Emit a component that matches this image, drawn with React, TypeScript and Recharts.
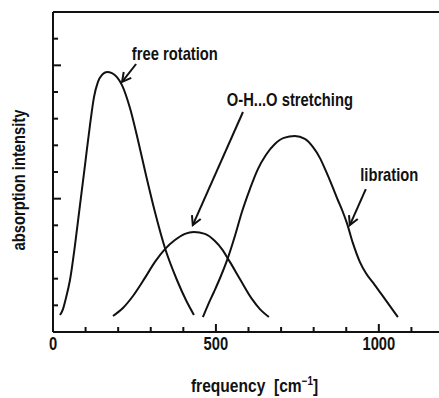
import React from 'react';
import {
  LineChart,
  Line,
  XAxis,
  YAxis,
  ReferenceLine,
  ReferenceDot,
} from 'recharts';

// frequency (cm^-1) / intensity pairs
const freeRotation = [
  { f: 21.5, v: 0.64 },
  { f: 30.7, v: 0.86 },
  { f: 39.9, v: 1.28 },
  { f: 52.1, v: 1.95 },
  { f: 67.5, v: 3.26 },
  { f: 82.8, v: 4.76 },
  { f: 98.2, v: 6.26 },
  { f: 113.5, v: 7.76 },
  { f: 125.8, v: 8.81 },
  { f: 138, v: 9.38 },
  { f: 150.3, v: 9.64 },
  { f: 165.6, v: 9.75 },
  { f: 181, v: 9.71 },
  { f: 196.3, v: 9.56 },
  { f: 211.7, v: 9.26 },
  { f: 236.2, v: 8.4 },
  { f: 260.7, v: 7.2 },
  { f: 285.3, v: 5.89 },
  { f: 312.9, v: 4.5 },
  { f: 343.6, v: 3.15 },
  { f: 380.4, v: 1.95 },
  { f: 408, v: 1.2 },
  { f: 432.5, v: 0.64 },
];

const ohoStretching = [
  { f: 184, v: 0.6 },
  { f: 214.7, v: 0.9 },
  { f: 245.4, v: 1.35 },
  { f: 282.2, v: 2.03 },
  { f: 312.9, v: 2.63 },
  { f: 343.6, v: 3.11 },
  { f: 374.2, v: 3.45 },
  { f: 404.9, v: 3.68 },
  { f: 432.5, v: 3.75 },
  { f: 466.3, v: 3.68 },
  { f: 496.9, v: 3.41 },
  { f: 518.4, v: 3.11 },
  { f: 542.9, v: 2.63 },
  { f: 573.6, v: 1.99 },
  { f: 610.4, v: 1.24 },
  { f: 635, v: 0.86 },
  { f: 662.6, v: 0.56 },
];

const libration = [
  { f: 460.1, v: 0.56 },
  { f: 475.5, v: 1.01 },
  { f: 493.9, v: 1.5 },
  { f: 515.3, v: 2.1 },
  { f: 536.8, v: 2.78 },
  { f: 558.3, v: 3.6 },
  { f: 579.8, v: 4.5 },
  { f: 604.3, v: 5.36 },
  { f: 628.8, v: 6.11 },
  { f: 653.4, v: 6.64 },
  { f: 681, v: 7.05 },
  { f: 708.6, v: 7.28 },
  { f: 742.3, v: 7.35 },
  { f: 773, v: 7.24 },
  { f: 797.5, v: 6.94 },
  { f: 819, v: 6.53 },
  { f: 837.4, v: 6.04 },
  { f: 855.8, v: 5.51 },
  { f: 874.2, v: 4.95 },
  { f: 889.6, v: 4.5 },
  { f: 901.8, v: 4.09 },
  { f: 920.2, v: 3.34 },
  { f: 941.7, v: 2.63 },
  { f: 960.1, v: 2.21 },
  { f: 987.7, v: 1.76 },
  { f: 1018.4, v: 1.24 },
  { f: 1058.3, v: 0.56 },
];

const xTicks = [0, 100, 200, 300, 400, 500, 600, 700, 800, 900, 1000, 1100, 1200];
const yTicks = [0, 1, 2, 3, 4, 5, 6, 7, 8, 9, 10, 11, 12];

// annotation text position (tx, ty) and arrow tail -> tip, in data units
const annotations = [
  { text: 'free rotation', tx: 374, ty: 10.2, x1: 255, y1: 10.05, x2: 212, y2: 9.38 },
  { text: 'O-H...O stretching', tx: 727, ty: 8.47, x1: 583, y1: 8.25, x2: 429, y2: 4.01 },
  { text: 'libration', tx: 1032, ty: 5.66, x1: 960, y1: 5.36, x2: 911, y2: 4.01 },
];

const INK = '#111';
const FONT = "'Liberation Sans', Arial, Helvetica, sans-serif";
const SQUEEZE = 0.82; // the scan uses a condensed Helvetica

const isMajor = (v: number) => v % 500 === 0;

// bold text squeezed horizontally to look like a narrow face
const NarrowText = ({ x, y, size = 18, rotate = 0, children }: any) => (
  <g transform={`translate(${x},${y}) rotate(${rotate}) scale(${SQUEEZE},1)`}>
    <text x={0} y={0} textAnchor="middle" fontFamily={FONT} fontWeight="bold" fontSize={size} fill={INK}>
      {children}
    </text>
  </g>
);

const BottomTick = ({ x, y, payload }: any) => (
  <g>
    <line x1={x} y1={y} x2={x} y2={y - (isMajor(payload.value) ? 8 : 5)} stroke={INK} strokeWidth={2} />
    {isMajor(payload.value) && <NarrowText x={x} y={y + 18}>{payload.value}</NarrowText>}
  </g>
);

const TopTick = ({ x, y, payload }: any) => (
  <line x1={x} y1={y} x2={x} y2={y + (isMajor(payload.value) ? 9 : 5)} stroke={INK} strokeWidth={2} />
);

const LeftTick = ({ x, y, payload }: any) => (
  <line x1={x} y1={y} x2={x + (payload.value % 5 === 0 ? 8 : 5)} y2={y} stroke={INK} strokeWidth={2} />
);

const RightTick = ({ x, y, payload }: any) => (
  <line x1={x} y1={y} x2={x - (payload.value % 5 === 0 ? 8 : 5)} y2={y} stroke={INK} strokeWidth={2} />
);

// arrow with an open V head at the tip (x2, y2)
const Arrow = (props: any) => {
  const { x1, y1, x2, y2 } = props;
  const a = Math.atan2(y2 - y1, x2 - x1);
  const len = 10;
  const spread = 0.5;
  const h1x = x2 - len * Math.cos(a - spread);
  const h1y = y2 - len * Math.sin(a - spread);
  const h2x = x2 - len * Math.cos(a + spread);
  const h2y = y2 - len * Math.sin(a + spread);
  return (
    <g stroke={INK} strokeWidth={2} fill="none">
      <line x1={x1} y1={y1} x2={x2} y2={y2} />
      <polyline points={`${h1x},${h1y} ${x2},${y2} ${h2x},${h2y}`} />
    </g>
  );
};

const XTitle = ({ viewBox }: any) => (
  <NarrowText x={viewBox.x + viewBox.width / 2 + 6} y={viewBox.y + 60} size={19}>
    {'frequency\u00a0\u00a0[cm'}
    <tspan dy={-7} fontSize={12}>−1</tspan>
    <tspan dy={7}>]</tspan>
  </NarrowText>
);

const YTitle = ({ viewBox }: any) => (
  <NarrowText x={viewBox.x - 27} y={viewBox.y + viewBox.height / 2 + 8} rotate={-90}>
    absorption intensity
  </NarrowText>
);

const axisLine = { stroke: INK, strokeWidth: 2 };

export default function App() {
  return (
    <div style={{ position: 'absolute', left: 0, top: 0, width: 439, height: 398, overflow: 'hidden', background: '#fff' }}>
      <LineChart width={460} height={398} margin={{ top: 11, right: 15, bottom: 65, left: 52 }}>
        <XAxis
          dataKey="f"
          type="number"
          domain={[0, 1200]}
          ticks={xTicks}
          interval={0}
          height={1}
          tickSize={0}
          tickMargin={0}
          tickLine={false}
          tick={<BottomTick />}
          axisLine={axisLine}
          allowDataOverflow
          label={<XTitle />}
        />
        <XAxis
          xAxisId="top"
          orientation="top"
          dataKey="f"
          type="number"
          domain={[0, 1200]}
          ticks={xTicks}
          interval={0}
          height={1}
          tickSize={0}
          tickMargin={0}
          tickLine={false}
          tick={<TopTick />}
          axisLine={axisLine}
        />
        <YAxis
          type="number"
          domain={[0, 12]}
          ticks={yTicks}
          interval={0}
          width={1}
          tickSize={0}
          tickMargin={0}
          tickLine={false}
          tick={<LeftTick />}
          axisLine={axisLine}
          label={<YTitle />}
        />
        <YAxis
          yAxisId="right"
          orientation="right"
          type="number"
          domain={[0, 12]}
          ticks={yTicks}
          interval={0}
          width={1}
          tickSize={0}
          tickMargin={0}
          tickLine={false}
          tick={<RightTick />}
          axisLine={axisLine}
        />
        <Line data={freeRotation} dataKey="v" type="monotone" dot={false} stroke={INK} strokeWidth={2} isAnimationActive={false} />
        <Line data={ohoStretching} dataKey="v" type="monotone" dot={false} stroke={INK} strokeWidth={2} isAnimationActive={false} />
        <Line data={libration} dataKey="v" type="monotone" dot={false} stroke={INK} strokeWidth={2} isAnimationActive={false} />
        {annotations.map((a) => (
          <ReferenceLine
            key={`arrow-${a.text}`}
            segment={[{ x: a.x1, y: a.y1 }, { x: a.x2, y: a.y2 }]}
            shape={<Arrow />}
            ifOverflow="visible"
          />
        ))}
        {annotations.map((a) => (
          <ReferenceDot
            key={`label-${a.text}`}
            x={a.tx}
            y={a.ty}
            ifOverflow="visible"
            shape={(p: any) => <NarrowText x={p.cx} y={p.cy}>{a.text}</NarrowText>}
          />
        ))}
      </LineChart>
    </div>
  );
}
